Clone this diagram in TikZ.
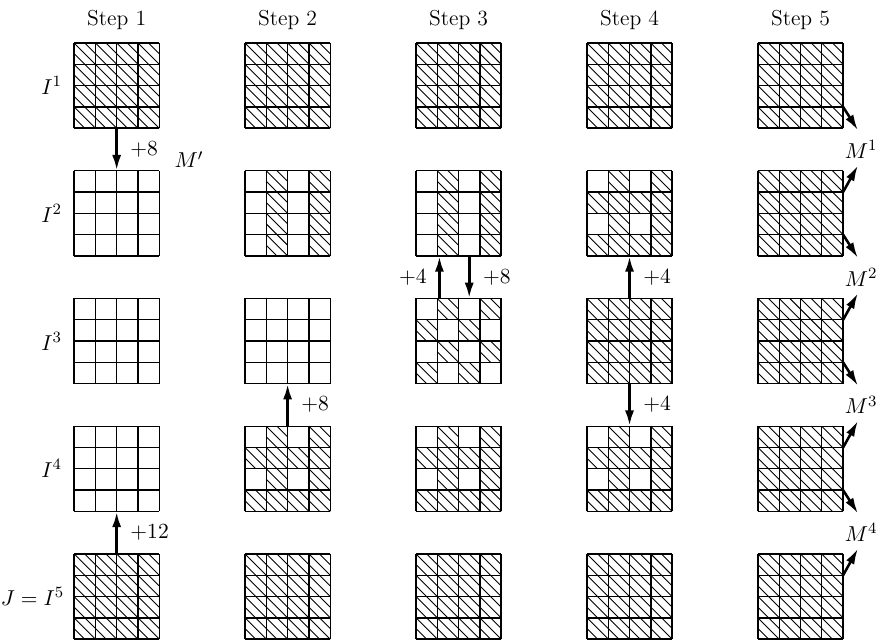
\documentclass[tikz,border=0pt]{standalone}
\usetikzlibrary{arrows.meta,calc}
\newcommand\hcell[2]{\draw[hatchline] (#1,#2+0.5)--(#1+0.5,#2) (#1,#2+1)--(#1+1,#2) (#1+0.5,#2+1)--(#1+1,#2+0.5);}
\newcommand\patF{\foreach \i in {0,...,3}{\foreach \j in {0,...,3}{\hcell{\i}{\j}}}}
\newcommand\patE{}
\newcommand\patC{\foreach \i in {1,3}{\foreach \j in {0,...,3}{\hcell{\i}{\j}}}}
\newcommand\patX{\foreach \i in {1,3}{\foreach \j in {3,1}{\hcell{\i}{\j}}}\foreach \i in {0,...,3}{\foreach \j in {2,0}{\hcell{\i}{\j}}}}
\newcommand\patK{\foreach \i in {1,3}{\foreach \j in {3,1}{\hcell{\i}{\j}}}\foreach \i in {0,2}{\foreach \j in {2,0}{\hcell{\i}{\j}}}}
\begin{document}
\begin{tikzpicture}[x=0.38cm,y=0.38cm,
  every node/.style={font=\fontsize{11}{13}\selectfont},
  gridbox/.style={draw=none,minimum size=1.52cm,inner sep=0pt,outer sep=0pt},
  gridline/.style={line width=0.7pt},
  hatchline/.style={line width=0.45pt},
  arr/.style={line width=1.5pt,-{Latex[length=8pt,width=4.6pt]}},
  diag/.style={line width=1.3pt,-{Latex[length=8pt,width=4.6pt]}},
  lblr/.style={anchor=west,inner sep=0pt,xshift=2.2mm},
  lbll/.style={anchor=east,inner sep=0pt,xshift=-2.0mm},
  rowlbl/.style={anchor=east,inner sep=0pt},
  steplbl/.style={anchor=base,inner sep=0pt}]
\useasboundingbox (0,-0.13) rectangle (41.57,30.02);
\foreach \r/\c/\p in {1/1/F,1/2/F,1/3/F,1/4/F,1/5/F,
                      2/1/E,2/2/C,2/3/C,2/4/X,2/5/F,
                      3/1/E,3/2/E,3/3/K,3/4/F,3/5/F,
                      4/1/E,4/2/X,4/3/X,4/4/X,4/5/F,
                      5/1/F,5/2/F,5/3/F,5/4/F,5/5/F}{
  \node[gridbox] (g\r\c) at ({5.48+8.03*(\c-1)},{26-6*(\r-1)}) {};
  \begin{scope}[shift={(g\r\c.south west)}]
    \csname pat\p\endcsname
    \foreach \k in {0,...,4}{\draw[gridline] (\k,0)--(\k,4) (0,\k)--(4,\k);}
  \end{scope}
}
% step titles
\foreach \c in {1,...,5}{
  \node[steplbl] (s\c) at ({5.48+8.03*(\c-1)},28.83) {Step \c};
}
% row labels
\foreach \r in {1,...,4}{
  \node[rowlbl] (l\r) at ($(g\r1.west)+(-0.55,0)$) {$I^{\r}$};
}
\node[rowlbl] (l5) at ($(g51.west)+(-0.45,0)$) {$J=I^5$};
\node (mp) at (8.88,22.52) {$M'$};
% vertical arrows
\draw[arr] (g11.south) -- node[lblr] {$+8$} (g21.north);
\draw[arr] (g51.north) -- node[lblr] {$+12$} (g41.south);
\draw[arr] (g42.north) -- node[lblr] {$+8$} (g32.south);
\draw[arr] ($(g33.north)+(-0.9,0)$) -- node[lbll] {$+4$} ($(g23.south)+(-0.9,0)$);
\draw[arr] ($(g23.south)+(0.5,0)$) -- node[lblr] {$+8$} ($(g33.north)+(0.5,0)$);
\draw[arr] (g34.north) -- node[lblr] {$+4$} (g24.south);
\draw[arr] (g34.south) -- node[lblr] {$+4$} (g44.north);
% step 5 arrows
\foreach \r in {1,...,4}{
  \coordinate (dn\r) at ($(g\r5.east)+(0.7,-2.1)$);
  \draw[diag] ($(g\r5.east)+(0,-1)$) -- (dn\r);
  \node (m\r) at ($(g\r5.east)+(0.85,-3)$) {$M^{\r}$};
}
\foreach \r in {2,...,5}{
  \coordinate (up\r) at ($(g\r5.east)+(0.7,2.25)$);
  \draw[diag] ($(g\r5.east)+(0,1)$) -- (up\r);
}
\end{tikzpicture}
\end{document}
